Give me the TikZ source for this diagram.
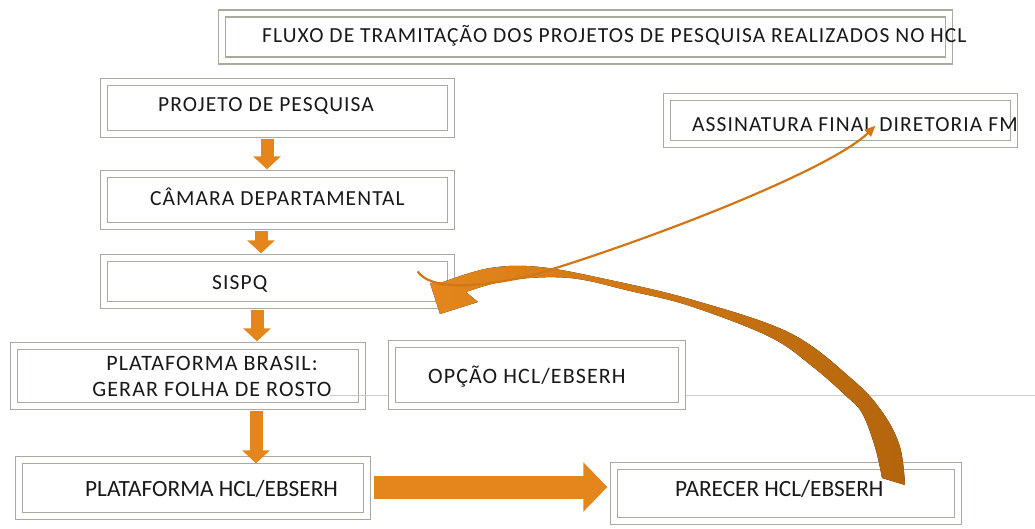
\documentclass[tikz,border=0pt]{standalone}
\usepackage{fontspec}
\setmainfont{Carlito}
\usepackage{tikz}
\usetikzlibrary{arrows.meta, positioning}

\definecolor{framegray}{RGB}{166,171,156}
\definecolor{floworange}{RGB}{228,134,27}
\definecolor{flowbrown}{RGB}{180,101,12}
\definecolor{flowmid}{RGB}{208,118,20}
\definecolor{rulegray}{RGB}{205,205,205}

\begin{document}
\begin{tikzpicture}[
    x=1pt, y=-1pt,
    box/.style={rectangle, draw=framegray, line width=1.3pt, double=white, double distance=5.5pt, fill=white, inner sep=0pt},
    boxtext/.style={anchor=base west, inner sep=0pt, font=\fontsize{21.5}{24}\selectfont\addfontfeatures{LetterSpace=5}, text=black!90},
    widetext/.style={font=\fontsize{22}{26}\selectfont\addfontfeatures{LetterSpace=5}},
    narrowtext/.style={font=\fontsize{23.3}{26}\selectfont},
    downarrow/.style={floworange, line width=13pt, -{Triangle[length=13pt, width=27pt]}},
    bigarrow/.style={floworange, line width=23pt, -{Triangle[length=24pt, width=48pt]}}
]
\useasboundingbox (0,0) rectangle (1035,528);

% caixas
\node[box, minimum width=727pt, minimum height=47pt] (title) at (585.5,37) {};
\node[box, minimum width=347pt, minimum height=52pt] (proj) at (277.5,108) {};
\node[box, minimum width=347pt, minimum height=52pt] (cam) at (277.5,200) {};
\node[box, minimum width=347pt, minimum height=47pt] (sispq) at (277.5,281.5) {};
\node[box, minimum width=348pt, minimum height=60pt] (platb) at (188,376) {};
\draw[rulegray, line width=1pt] (330,395) -- (1035,395);
\node[box, minimum width=290pt, minimum height=62pt] (opcao) at (537,375) {};
\node[box, minimum width=348pt, minimum height=56pt] (plathcl) at (193,488) {};
\node[box, minimum width=344pt, minimum height=55pt] (parecer) at (786,493.5) {};
\node[box, minimum width=347pt, minimum height=47pt] (assin) at (840.5,120.5) {};

% textos
\node[boxtext] (titletxt) at (262,42) {FLUXO DE TRAMITAÇÃO DOS PROJETOS DE PESQUISA REALIZADOS NO HCL};
\node[boxtext] (projtxt) at (158,111.5) {PROJETO DE PESQUISA};
\node[boxtext] (camtxt) at (150,205) {CÂMARA DEPARTAMENTAL};
\node[boxtext] (sispqtxt) at (212,289) {SISPQ};
\node[boxtext, widetext, anchor=center, align=center] (platbtxt) at (212,376) {PLATAFORMA BRASIL:\\GERAR FOLHA DE ROSTO};
\node[boxtext, widetext] (opcaotxt) at (428,383) {OPÇÃO HCL/EBSERH};
\node[boxtext, narrowtext] (plathcltxt) at (85,496) {PLATAFORMA HCL/EBSERH};
\node[boxtext, narrowtext] (parecertxt) at (675,496) {PARECER HCL/EBSERH};
\node[boxtext] (assintxt) at (692,131) {ASSINATURA FINAL DIRETORIA FM};

% setas da coluna
\draw[downarrow] ([xshift=-10.5pt,yshift=-4pt]proj.south) -- ([xshift=-10.5pt,yshift=4pt]cam.north);
\draw[downarrow] ([xshift=-16.5pt,yshift=-4pt]cam.south) -- ([xshift=-16.5pt,yshift=4pt]sispq.north);
\draw[downarrow] ([xshift=-20.5pt,yshift=-4pt]sispq.south) -- ([xshift=-20.5pt,yshift=4pt]sispq.south |- platb.north);
\draw[downarrow] ([xshift=68pt,yshift=-4pt]platb.south) -- ([xshift=68pt,yshift=-4pt]platb.south |- plathcl.north);
\draw[bigarrow] ([xshift=6pt,yshift=1pt]plathcl.east) -- ([xshift=-6pt,yshift=1pt]parecer.west |- plathcl.east);

% retorno do parecer
\fill[left color=floworange, right color=flowbrown]
  plot[smooth, tension=0.6] coordinates {(905,485) (900,447) (883,413) (853,380) (790,333) (693,300) (610,280) (540,267) (490,268) (443,282)}
  -- (430,283) -- (440,314) -- (478,302) -- (466,292)
  -- plot[smooth, tension=0.6] coordinates {(466,292) (510,280) (570,278) (630,291) (690,306) (770,337) (813,367) (845,395) (862,413) (875,447) (882,478)}
  -- cycle;
\draw[flowmid, line width=2.2pt, -{Triangle[length=11pt, width=9pt]}]
  ([xshift=-34pt,yshift=10pt]sispq.east) .. controls (430,289) and (470,289) .. (530,276)
  .. controls (650,240) and (830,170) .. ([xshift=35pt,yshift=19pt]assin.south);

\end{tikzpicture}
\end{document}
